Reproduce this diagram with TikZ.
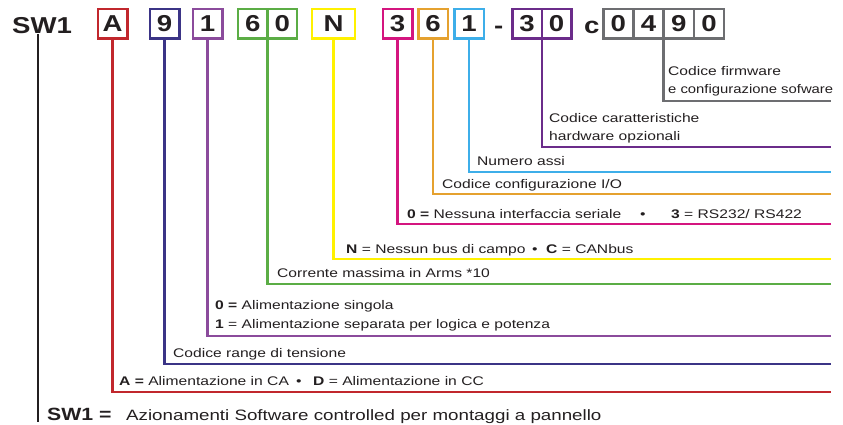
\documentclass[tikz,border=0pt]{standalone}
\usepackage{fontspec}
\setmainfont[FakeStretch=1.25]{Liberation Sans}
\newfontfamily\digfont[FakeStretch=1.2]{Liberation Sans}
\definecolor{cRed}{HTML}{C1272D}
\definecolor{cNavy}{HTML}{3B3486}
\definecolor{cPurA}{HTML}{8B4B9C}
\definecolor{cGreen}{HTML}{5BAD45}
\definecolor{cYellow}{HTML}{FFF100}
\definecolor{cMag}{HTML}{D4157F}
\definecolor{cOrange}{HTML}{E5A12F}
\definecolor{cBlue}{HTML}{3DAEE9}
\definecolor{cPurB}{HTML}{6B2C8A}
\definecolor{cGray}{HTML}{6D6E71}
\definecolor{ink}{HTML}{231F20}
\tikzset{
  cell/.style={draw=#1, line width=2.5pt, minimum width=29.5pt, minimum height=29.5pt,
    inner sep=0pt, outer sep=0pt, text=ink,
    font=\digfont\bfseries\fontsize{23}{23}\selectfont},
  conn/.style={draw=#1, line width=2.5pt},
  lab/.style={anchor=base west, inner sep=0pt, text=ink, font=\fontsize{12.5}{14}\selectfont},
  big/.style={anchor=base west, inner sep=0pt, text=ink, font=\digfont\bfseries\fontsize{23}{23}\selectfont},
}
\begin{document}
\begin{tikzpicture}[x=1pt,y=-1pt]
\useasboundingbox (0,0) rectangle (843,425);
% top code
\node[big] (sw) at (12,34) {SW1};
\node[cell=cRed] (bA) at (112.5,24) {A};
\node[cell=cNavy] (b9) at (164.5,24) {9};
\node[cell=cPurA] (b1) at (207.5,24) {1};
\node[cell=cGreen] (b6) at (252.75,24) {6};
\node[cell=cGreen] (b0) at (282.25,24) {0};
\node[cell=cYellow, minimum width=43pt] (bN) at (333.5,24) {N};
\node[cell=cMag] (b3) at (397.5,24) {3};
\node[cell=cOrange] (b6b) at (433,24) {6};
\node[cell=cBlue] (b1b) at (469,24) {1};
\node[big] (dash) at (494,34) {-};
\node[cell=cPurB] (b3b) at (527,24) {3};
\node[cell=cPurB] (b0b) at (556.5,24) {0};
\node[big] (cc) at (584,34) {c};
\node[cell=cGray, minimum width=30.2pt] (g0) at (618.35,24) {0};
\node[cell=cGray, minimum width=30.2pt] (g4) at (648.55,24) {4};
\node[cell=cGray, minimum width=30.2pt] (g9) at (678.75,24) {9};
\node[cell=cGray, minimum width=30.2pt] (g0b) at (708.95,24) {0};
% free ends
\coordinate (eG) at (831,101);
\coordinate (eP) at (831,147);
\coordinate (eB) at (831,172);
\coordinate (eO) at (831,194);
\coordinate (eM) at (831,224);
\coordinate (eY) at (831,259);
\coordinate (eGr) at (831,284);
\coordinate (eP1) at (831,336);
\coordinate (eN) at (831,364);
\coordinate (eR) at (831,392);
\coordinate (swend) at (38,422);
% connectors
\draw[conn=cGray] (g4.south east) |- (eG);
\draw[conn=cPurB] (b3b.south east) |- (eP);
\draw[conn=cBlue] (b1b.south) |- (eB);
\draw[conn=cOrange] (b6b.south) |- (eO);
\draw[conn=cMag] (b3.south) |- (eM);
\draw[conn=cYellow] (bN.south) |- (eY);
\draw[conn=cGreen] (b6.south east) |- (eGr);
\draw[conn=cPurA] (b1.south) |- (eP1);
\draw[conn=cNavy] (b9.south) |- (eN);
\draw[conn=cRed] (bA.south) |- (eR);
\draw[line width=2.8pt, draw=ink] (sw.south -| swend) -- (swend);
% labels
\node[lab] (tG1) at (668,76) {Codice firmware};
\node[lab, xscale=0.95] (tG2) at (668,94) {e configurazione sofware};
\node[lab] (tP1) at (549,123) {Codice caratteristiche};
\node[lab] (tP2) at (549,141) {hardware opzionali};
\node[lab] (tB) at (477,165) {Numero assi};
\node[lab] (tO) at (442,188) {Codice configurazione I/O};
\node[lab] (tM1) at (407,218) {\textbf{0 =} Nessuna interfaccia seriale};
\node[lab] (tM2) at (640,218) {•};
\node[lab] (tM3) at (671,218) {\textbf{3} = RS232/ RS422};
\node[lab] (tY1) at (346,253) {\textbf{N} = Nessun bus di campo};
\node[lab] (tY2) at (532,253) {•};
\node[lab] (tY3) at (546,253) {\textbf{C} = CANbus};
\node[lab] (tGr) at (277,277) {Corrente massima in Arms *10};
\node[lab] (tA1) at (215,309) {\textbf{0 =} Alimentazione singola};
\node[lab] (tA2) at (215,328) {\textbf{1} = Alimentazione separata per logica e potenza};
\node[lab] (tN) at (173,357) {Codice range di tensione};
\node[lab] (tR1) at (119,385) {\textbf{A =} Alimentazione in CA};
\node[lab] (tR2) at (296,385) {•};
\node[lab] (tR3) at (313,385) {\textbf{D} = Alimentazione in CC};
\node[anchor=base west, inner sep=0pt, text=ink, font=\digfont\bfseries\fontsize{17.7}{18}\selectfont] (sw2) at (47,420) {SW1 =};
\node[anchor=base west, inner sep=0pt, text=ink, font=\fontsize{15}{16}\selectfont] (swd) at (126,420) {Azionamenti Software controlled per montaggi a pannello};
\end{tikzpicture}
\end{document}
